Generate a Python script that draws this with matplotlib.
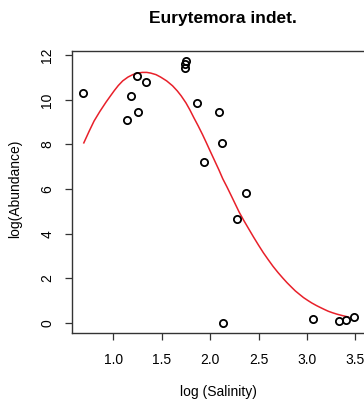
import matplotlib
matplotlib.use("Agg")
import matplotlib.pyplot as plt

plt.rcParams['font.family'] = ['Liberation Sans', 'DejaVu Sans']

# observed points
salinity = [0.687, 1.179, 1.244, 1.337, 1.144, 1.251, 1.735, 1.742, 1.746,
            1.859, 1.935, 2.093, 2.124, 2.368, 2.282, 2.131, 3.065, 3.330, 3.405, 3.488]
abundance = [10.29, 10.19, 11.06, 10.82, 9.09, 9.45, 11.45, 11.60, 11.72,
             9.87, 7.19, 9.44, 8.06, 5.80, 4.66, 0.0, 0.18, 0.09, 0.12, 0.25]

# fitted curve
curve_x = [0.694, 0.75, 0.80, 0.86, 0.924, 0.97, 1.01, 1.05, 1.096, 1.15, 1.20, 1.25,
           1.30, 1.345, 1.385, 1.44, 1.488, 1.55, 1.611, 1.660, 1.70, 1.75, 1.79,
           1.831, 1.875, 1.92, 1.96, 2.0, 2.045, 2.09, 2.13, 2.175, 2.22, 2.26, 2.30,
           2.346, 2.40, 2.449, 2.50, 2.55, 2.60, 2.65, 2.70, 2.75, 2.794, 2.84, 2.88,
           2.925, 2.965, 3.01, 3.05, 3.10, 3.137, 3.18, 3.22, 3.265, 3.309, 3.37, 3.429]
curve_y = [8.07, 8.60, 9.05, 9.48, 9.90, 10.18, 10.42, 10.64, 10.85, 11.02, 11.13, 11.20,
           11.23, 11.23, 11.20, 11.13, 11.02, 10.85, 10.63, 10.40, 10.18, 9.86, 9.55,
           9.20, 8.84, 8.45, 8.08, 7.70, 7.28, 6.86, 6.46, 6.08, 5.68, 5.32, 4.96,
           4.60, 4.20, 3.84, 3.48, 3.14, 2.83, 2.53, 2.26, 2.01, 1.80, 1.60, 1.43,
           1.27, 1.13, 1.00, 0.89, 0.77, 0.69, 0.60, 0.52, 0.45, 0.39, 0.32, 0.26]

xticks = [1.0, 1.5, 2.0, 2.5, 3.0, 3.5]
yticks = [0, 2, 4, 6, 8, 10, 12]

W, H = 364, 403
fig = plt.figure(figsize=(W/100, H/100), dpi=100)
L, R, T, B = 72.3, 365.0, 51.0, 333.3
ax = fig.add_axes([L/W, 1 - B/H, (R-L)/W, (B-T)/H])

ax.plot(curve_x, curve_y, color='#e8202a', lw=1.1, zorder=2)
ax.plot(salinity, abundance, linestyle='none', marker='o', markersize=5.2,
        markerfacecolor='none', markeredgecolor='black', markeredgewidth=1.3, zorder=3)

ax.set_xlim(0.575, 3.6)
ax.set_ylim(-0.47, 12.19)
ax.set_xticks(xticks)
ax.set_xticklabels(['1.0', '1.5', '2.0', '2.5', '3.0', '3.5'])
ax.set_yticks(yticks)
ax.set_yticklabels([str(v) for v in yticks], rotation=90, va='center')

for s in ax.spines.values():
    s.set_color('#333333')
    s.set_linewidth(1.0)

ax.tick_params(axis='x', direction='out', length=5, width=0.9, color='#333333',
               pad=9, labelsize=10)
ax.tick_params(axis='y', direction='out', length=5, width=0.9, color='#333333',
               pad=8, labelsize=10)

ax.set_xlabel('log (Salinity)', fontsize=10, va='center')
ax.xaxis.set_label_coords((218 - L)/(R - L), (B - 392)/(B - T))
ax.set_ylabel('log(Abundance)', fontsize=10, va='center')
ax.yaxis.set_label_coords((15 - L)/(R - L), (B - 189)/(B - T))

fig.text(223/W, 1 - 18.5/H, 'Eurytemora indet.', ha='center', va='center',
         fontsize=12.5, fontweight='bold')

fig.savefig('out.png', dpi=100)
